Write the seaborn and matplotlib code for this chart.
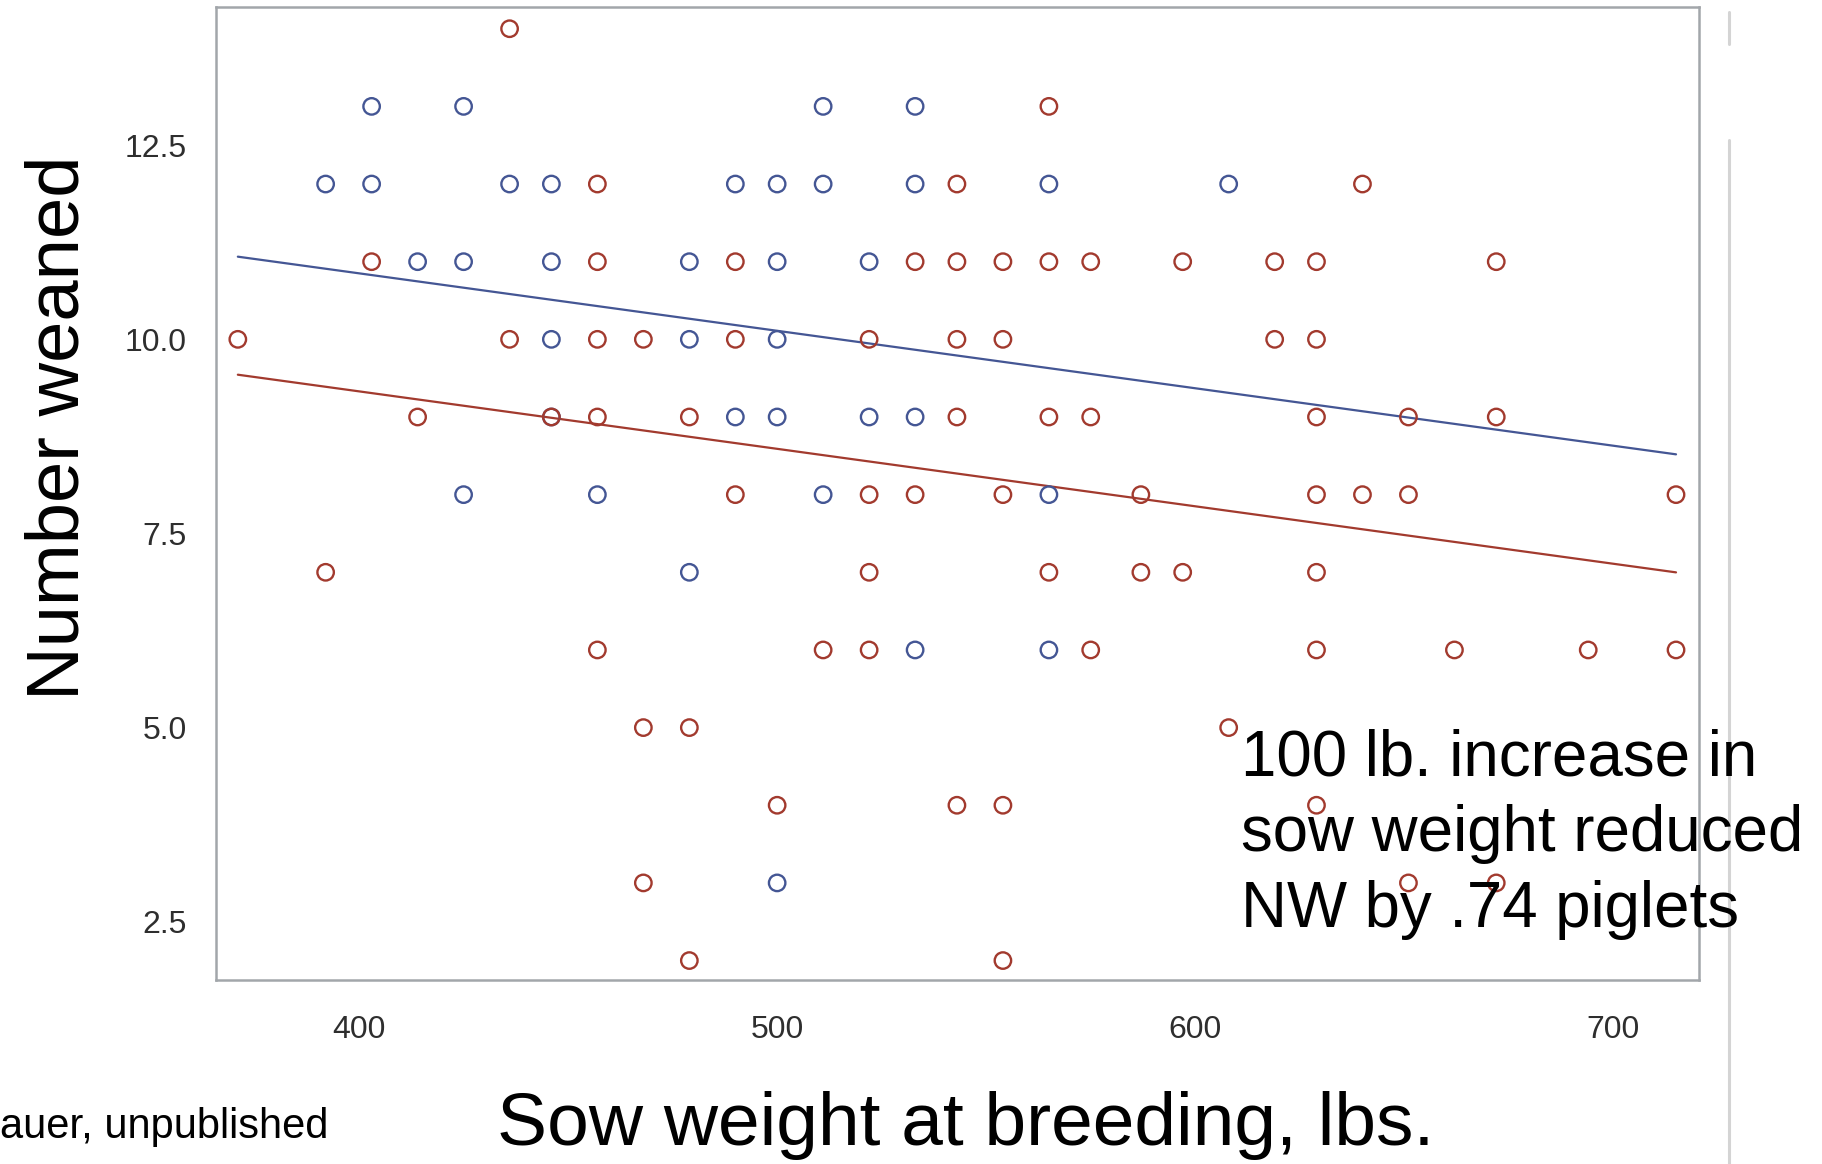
import matplotlib
matplotlib.use("Agg")
import matplotlib.pyplot as plt
from matplotlib.lines import Line2D
import seaborn as sns
import pandas as pd
import numpy as np

# sow weight at breeding (lbs) and number weaned
blue_weight = [403, 425, 511, 533,
               392, 403, 436, 446, 490, 500, 511, 533, 565, 608,
               414, 425, 446, 479, 500, 522,
               446, 479, 500,
               446, 490, 500, 522, 533,
               425, 457, 511, 565,
               479,
               533, 565,
               500]
blue_weaned = [13, 13, 13, 13,
               12, 12, 12, 12, 12, 12, 12, 12, 12, 12,
               11, 11, 11, 11, 11, 11,
               10, 10, 10,
               9, 9, 9, 9, 9,
               8, 8, 8, 8,
               7,
               6, 6,
               3]

red_weight = [436,
              565,
              457, 543, 640,
              403, 457, 490, 533, 543, 554, 565, 575, 597, 619, 629, 672,
              371, 436, 457, 468, 490, 522, 543, 554, 619, 629,
              414, 446, 457, 479, 543, 565, 575, 629, 651, 672,
              490, 522, 533, 554, 587, 629, 640, 651, 715,
              392, 522, 565, 587, 597, 629,
              457, 511, 522, 575, 629, 662, 694, 715,
              468, 479, 608,
              500, 543, 554, 629,
              468, 651, 672,
              479, 554]
red_weaned = [14,
              13,
              12, 12, 12,
              11, 11, 11, 11, 11, 11, 11, 11, 11, 11, 11, 11,
              10, 10, 10, 10, 10, 10, 10, 10, 10, 10,
              9, 9, 9, 9, 9, 9, 9, 9, 9, 9,
              8, 8, 8, 8, 8, 8, 8, 8, 8,
              7, 7, 7, 7, 7, 7,
              6, 6, 6, 6, 6, 6, 6, 6,
              5, 5, 5,
              4, 4, 4, 4,
              3, 3, 3,
              2, 2]

groups = ["Group 1", "Group 2"]
group_colors = ["#445694", "#A23A2E"]

# common-slope fit: -.74 piglets per 100 lb, one intercept per group
fit_slope = -0.0074
fit_intercepts = [13.81, 12.29]

x_ticks = [400, 500, 600, 700]
y_ticks = [2.5, 5.0, 7.5, 10.0, 12.5]

note_lines = ["100 lb. increase in", "sow weight reduced", "NW by .74 piglets"]
source_note = "auer, unpublished"

df = pd.DataFrame({
    "weight": blue_weight + red_weight,
    "weaned": blue_weaned + red_weaned,
    "group": [groups[0]] * len(blue_weight) + [groups[1]] * len(red_weight),
})
palette = dict(zip(groups, group_colors))

x_lo, x_hi = df["weight"].min(), df["weight"].max()
fit_df = pd.DataFrame({
    "weight": [x_lo, x_hi, x_lo, x_hi],
    "weaned": [fit_intercepts[0] + fit_slope * x_lo, fit_intercepts[0] + fit_slope * x_hi,
               fit_intercepts[1] + fit_slope * x_lo, fit_intercepts[1] + fit_slope * x_hi],
    "group": [groups[0], groups[0], groups[1], groups[1]],
})

sns.set_style("white")
plt.rcParams["font.family"] = ["Liberation Sans", "DejaVu Sans"]

frame_gray = "#a2a6aa"

fig = plt.figure(figsize=(18.22, 11.64), dpi=100)
ax = fig.add_axes([0.1186, 0.1581, 0.8139, 0.8359])

sns.lineplot(data=fit_df, x="weight", y="weaned", hue="group", palette=palette,
             linewidth=1.6, legend=False, ax=ax)
sns.scatterplot(data=df, x="weight", y="weaned", hue="group", palette=palette,
                marker="o", s=140, linewidth=1.7, legend=False, ax=ax, zorder=3)
# hollow circles in the group colour
for coll in ax.collections:
    fc = coll.get_facecolors()
    if len(fc):
        coll.set_edgecolors(fc)
        coll.set_facecolors("none")

ax.set_xlim(365.8, 720.5)
ax.set_ylim(1.75, 14.28)
ax.set_xticks(x_ticks)
ax.set_xticklabels([str(t) for t in x_ticks])
ax.set_yticks(y_ticks)
ax.set_yticklabels([f"{t:.1f}" for t in y_ticks])
ax.set_xlabel("")
ax.set_ylabel("")
ax.tick_params(axis="both", length=12, width=1.4, color=frame_gray,
               labelsize=23, labelcolor="#2e2e2e")
ax.tick_params(axis="x", pad=13)
ax.tick_params(axis="y", pad=9)
for sp in ax.spines.values():
    sp.set_visible(True)
    sp.set_color(frame_gray)
    sp.set_linewidth(1.8)

# axis titles
fig.text(966 / 1822, 1 - 1145 / 1164, "Sow weight at breeding, lbs.", fontsize=54,
         ha="center", va="baseline", color="black")
fig.text(79 / 1822, 1 - 428 / 1164, "Number weaned", fontsize=53.5, rotation=90,
         rotation_mode="anchor", ha="center", va="baseline", color="black")

# annotation
for i, line in enumerate(note_lines):
    fig.text(1241 / 1822, 1 - (775 + 76 * i) / 1164, line, fontsize=45.8,
             ha="left", va="baseline", color="black")

fig.text(0.0, 1 - 1138 / 1164, source_note, fontsize=30, ha="left", va="baseline",
         color="black")

# slide divider lines on the right
fig.add_artist(Line2D([0.949, 0.949], [1 - 12 / 1164, 1 - 44 / 1164],
                      color="#d4d4d4", linewidth=2.2))
fig.add_artist(Line2D([0.949, 0.949], [1 - 140 / 1164, 0.0],
                      color="#d4d4d4", linewidth=2.2))

fig.savefig("out.png", dpi=100)
plt.close(fig)
